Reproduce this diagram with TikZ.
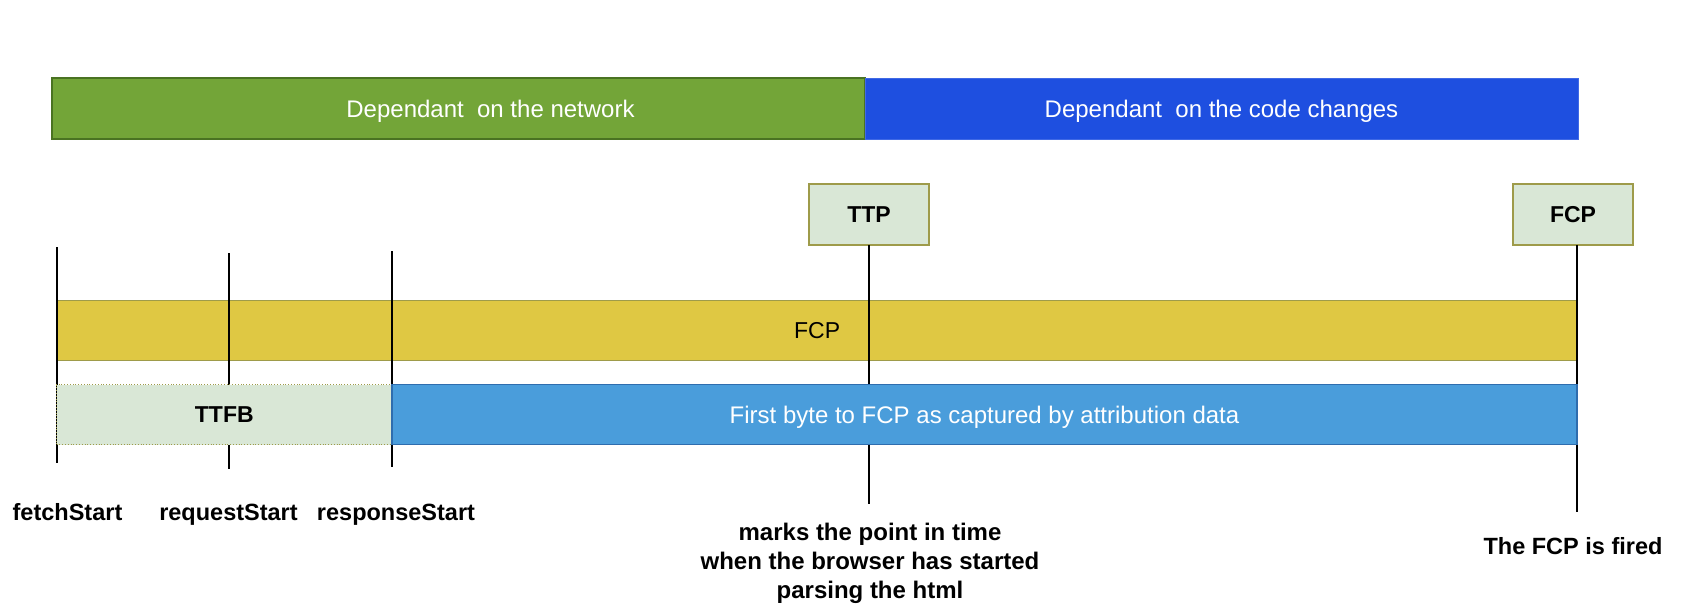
\documentclass[tikz,border=0pt]{standalone}
\usepackage{fontspec}
\setmainfont{Liberation Sans}
\definecolor{netgreen}{HTML}{73A538}
\definecolor{netgreendark}{HTML}{4A7322}
\definecolor{codeblue}{HTML}{1E4FE0}
\definecolor{paleg}{HTML}{D9E7D6}
\definecolor{olive}{HTML}{9E9B4A}
\definecolor{fcpyellow}{HTML}{DFC843}
\definecolor{attrblue}{HTML}{4A9DDB}
\definecolor{attrbluedark}{HTML}{2F6DAE}
\begin{document}
\begin{tikzpicture}[x=1pt,y=-1pt,
  box/.style={anchor=north west, inner sep=0pt, outer sep=0pt, font=\fontsize{23}{27}\selectfont},
  bigtext/.style={font=\fontsize{24}{28}\selectfont},
  markbox/.style={box, fill=paleg, draw=olive, line width=1.5pt, minimum width=120pt, minimum height=61pt, font=\fontsize{23}{27}\selectfont\bfseries},
  tick/.style={draw=black, line width=2pt},
  lbl/.style={inner sep=0pt, anchor=base, font=\fontsize{23.5}{29}\selectfont\bfseries, align=center}]
\useasboundingbox (0,0) rectangle (1706,614);
% top bars
\node[box, bigtext, fill=netgreen, draw=netgreendark, line width=1.5pt, text=white, minimum width=813pt, minimum height=61pt, text height=20pt, text depth=2pt] (net) at (52,78) {\hspace*{64pt}Dependant\ \ on the network};
\node[box, bigtext, fill=codeblue, draw=codeblue!85!white, line width=0.8pt, text=white, minimum width=713pt, minimum height=61pt, text height=20pt, text depth=2pt] (code) at (865,78) {Dependant\ \ on the code changes};
% marker boxes
\node[markbox] (ttp) at (809,184) {TTP};
\node[markbox] (fcpbox) at (1513,184) {FCP};
% FCP bar
\node[box, fill=fcpyellow, draw=olive, line width=1.5pt, minimum width=1521pt, minimum height=60pt] (fcpbar) at (56.6,300.5) {FCP};
% tick lines
\coordinate (fsA) at (56.6,247);   \coordinate (fsB) at (56.6,463);
\coordinate (rqA) at (228.7,253);  \coordinate (rqB) at (228.7,469);
\coordinate (rsA) at (392,251);    \coordinate (rsB) at (392,467);
\coordinate (ttpB) at (869,504);
\coordinate (fcpB) at (1577,512);
\draw[tick] (fsA) -- (fsB);
\draw[tick] (rqA) -- (rqB);
\draw[tick] (rsA) -- (rsB);
\draw[tick] (ttp.south) -- (ttpB);
\draw[tick] (fcpbox.south -| fcpB) -- (fcpB);
% lower bars
\node[box, fill=paleg, draw=olive, line width=0.8pt, dotted, minimum width=335.4pt, minimum height=60pt, font=\fontsize{23}{27}\selectfont\bfseries] (ttfb) at (56.6,384.5) {TTFB};
\node[box, bigtext, fill=attrblue, draw=attrbluedark, line width=1.5pt, text=white, minimum width=1185pt, minimum height=60pt, text height=19pt, text depth=2pt] (attr) at (392,384.5) {First byte to FCP as captured by attribution data};
% labels
\node[lbl] (fetch) at (67.5,520) {fetchStart};
\node[lbl] (req) at (228.5,520) {requestStart};
\node[lbl] (resp) at (396,520) {responseStart};
\node[lbl, anchor=center, font=\fontsize{24}{29}\selectfont\bfseries] (parse) at (870,563.5) {marks the point in time\\when the browser has started\\parsing the html};
\node[lbl, anchor=center] (fired) at (1573,546) {The FCP is fired};
\end{tikzpicture}
\end{document}
